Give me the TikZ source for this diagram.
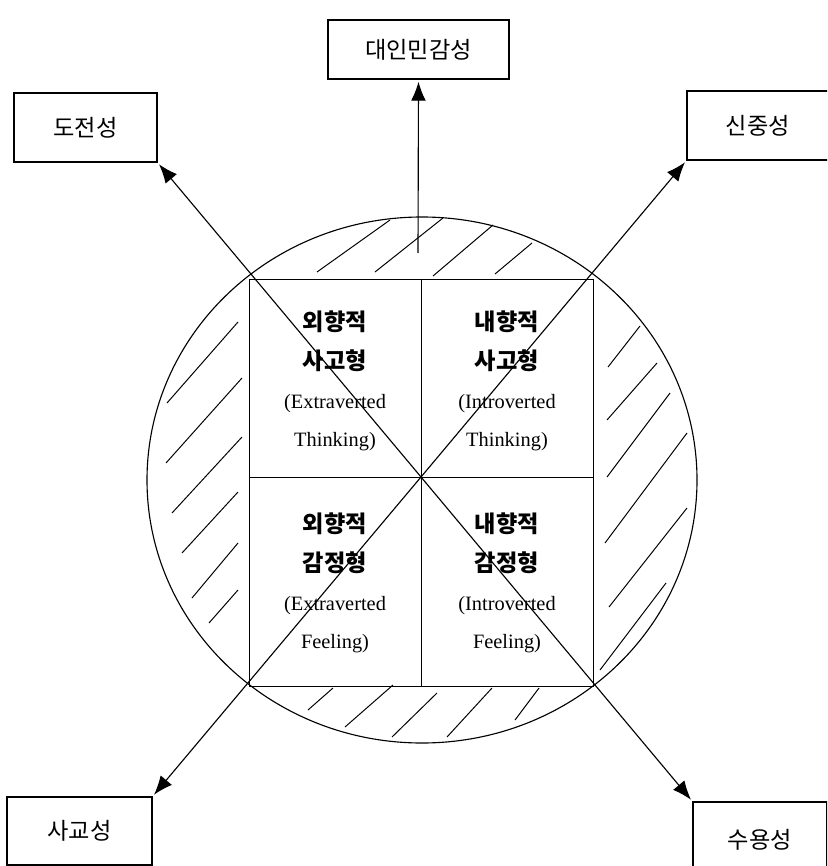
\documentclass[tikz,border=0pt]{standalone}
\usepackage{fontspec}
\setmainfont{Liberation Serif}
\newfontfamily\kr{Noto Sans CJK KR}
\usetikzlibrary{arrows.meta}

\begin{document}
\begin{tikzpicture}[x=0.025cm,y=-0.025cm,
    box/.style={draw,line width=0.9pt,inner sep=0pt,font=\kr\fontsize{16.5}{18}\selectfont},
    arr/.style={line width=0.8pt,-{Latex[length=13.5pt,width=10.5pt]},shorten >=1.5pt},
    hatch/.style={line width=0.7pt},
    thinline/.style={line width=0.5pt},
    quad/.style={align=center,font=\fontsize{14.5}{27.6}\selectfont}]

      \useasboundingbox (0,0) rectangle (827,866);
      \clip (0,0) rectangle (827,866);

      %Circle and square
      \draw[line width=0.8pt] (422,480) ellipse [x radius=275,y radius=263];
      \draw[thinline] (249,279) rectangle (593,686);
      \draw[thinline] (421,279) -- (421,686);
      \draw[thinline] (249,477) -- (593,477);

      %Hatching
      \foreach \xa/\ya/\xb/\yb in {317/272/390/220,375/272/443/218,433/276/493/225,495/274/532/243,
          608/367/640/326,607/420/657/363,607/477/670/393,605/543/687/433,609/607/687/508,600/670/666/583,
          308/710/333/688,345/727/393/685,392/737/437/693,447/737/492/688,515/720/539/688,
          167/403/238/322,166/463/242/378,172/513/242/437,182/553/238/492,192/598/238/543,209/623/238/590}
        \draw[hatch] (\xa,\ya) -- (\xb,\yb);

      %Outer boxes
      \node[box,minimum width=4.525cm,minimum height=1.475cm] (daein) at (418.5,49.5) {대인민감성};
      \node[box,minimum width=3.575cm,minimum height=1.725cm] (dojeon) at (85.5,127.5) {도전성};
      \node[box,minimum width=3.55cm,minimum height=1.725cm] (sinjung) at (758,125.5) {신중성};
      \node[box,minimum width=3.625cm,minimum height=1.7cm] (sagyo) at (79.5,831) {사교성};
      \node[box,minimum width=3.35cm,minimum height=1.9cm] (suyong) at (760,840) {수용성};

      %Arrows
      \coordinate (c) at (421,477);
      \coordinate (v) at (418,253);
      \draw[arr] (v) -- (daein.south);
      \draw[arr] (c) -- (dojeon.south east);
      \draw[arr] (c) -- (sinjung.south west);
      \draw[arr] (c) -- (sagyo.north east);
      \draw[arr] (c) -- (suyong.north west);

      %Types
      \node[quad] (et) at (335,381) {{\kr\bfseries\fontsize{16.5}{18}\selectfont 외향적}\\{\kr\bfseries\fontsize{16.5}{18}\selectfont 사고형}\\(Extraverted\\Thinking)};
      \node[quad] (it) at (507,381) {{\kr\bfseries\fontsize{16.5}{18}\selectfont 내향적}\\{\kr\bfseries\fontsize{16.5}{18}\selectfont 사고형}\\(Introverted\\Thinking)};
      \node[quad] (ef) at (335,583) {{\kr\bfseries\fontsize{16.5}{18}\selectfont 외향적}\\{\kr\bfseries\fontsize{16.5}{18}\selectfont 감정형}\\(Extraverted\\Feeling)};
      \node[quad] (if) at (507,583) {{\kr\bfseries\fontsize{16.5}{18}\selectfont 내향적}\\{\kr\bfseries\fontsize{16.5}{18}\selectfont 감정형}\\(Introverted\\Feeling)};

\end{tikzpicture}
\end{document}
